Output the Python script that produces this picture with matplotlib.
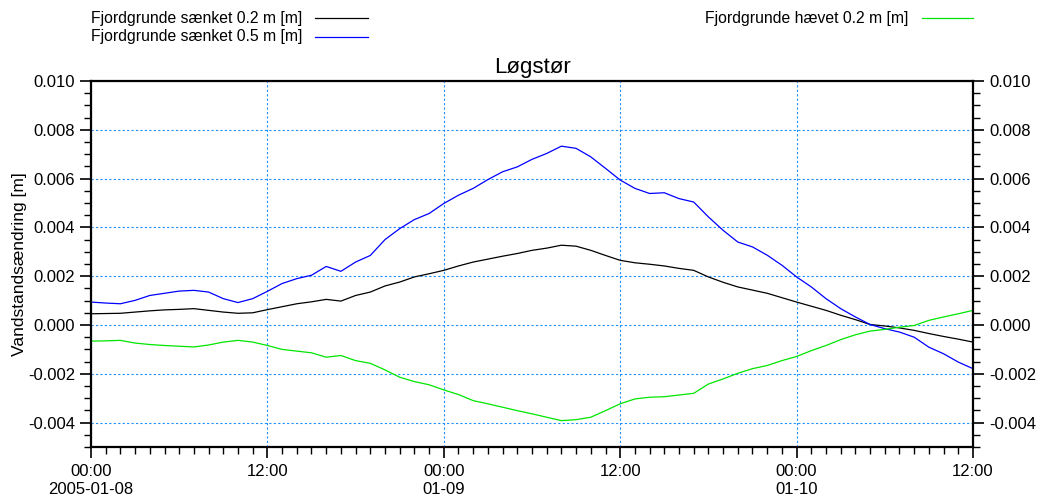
import numpy as np
import pandas as pd
import matplotlib
matplotlib.use("Agg")
import matplotlib.pyplot as plt
import matplotlib.dates as mdates
from matplotlib.lines import Line2D
from matplotlib.ticker import MultipleLocator

plt.rcParams['font.family'] = ['Liberation Sans', 'DejaVu Sans']

# hours after 2005-01-08 00:00, values in mm
hours = list(range(61))
saenket_02 = [0.46, 0.47, 0.48, 0.53, 0.58, 0.62, 0.64, 0.67, 0.60, 0.53,
              0.48, 0.50, 0.63, 0.75, 0.87, 0.95, 1.05, 0.98, 1.21, 1.35,
              1.60, 1.76, 1.97, 2.10, 2.24, 2.42, 2.58, 2.70, 2.82, 2.93,
              3.06, 3.15, 3.27, 3.23, 3.06, 2.85, 2.65, 2.55, 2.49, 2.42,
              2.32, 2.24, 1.97, 1.75, 1.56, 1.43, 1.30, 1.12, 0.94, 0.77,
              0.60, 0.40, 0.22, 0.02, -0.04, -0.12, -0.22, -0.35, -0.47, -0.58,
              -0.70]
saenket_05 = [0.94, 0.90, 0.87, 1.01, 1.21, 1.30, 1.39, 1.42, 1.35, 1.08,
              0.92, 1.08, 1.38, 1.70, 1.90, 2.04, 2.40, 2.20, 2.58, 2.85,
              3.50, 3.95, 4.32, 4.57, 4.98, 5.32, 5.60, 5.96, 6.28, 6.48,
              6.79, 7.03, 7.33, 7.24, 6.89, 6.42, 5.94, 5.60, 5.39, 5.42,
              5.18, 5.04, 4.43, 3.88, 3.40, 3.20, 2.86, 2.45, 1.97, 1.56,
              1.08, 0.67, 0.33, 0.02, -0.15, -0.29, -0.50, -0.91, -1.18, -1.52,
              -1.79]
haevet_02 = [-0.66, -0.65, -0.63, -0.74, -0.80, -0.84, -0.87, -0.90, -0.82, -0.70,
             -0.63, -0.70, -0.84, -1.00, -1.07, -1.14, -1.32, -1.25, -1.46, -1.57,
             -1.84, -2.14, -2.32, -2.45, -2.66, -2.85, -3.10, -3.23, -3.37, -3.51,
             -3.64, -3.78, -3.92, -3.88, -3.78, -3.51, -3.23, -3.03, -2.96, -2.94,
             -2.87, -2.80, -2.42, -2.21, -1.98, -1.79, -1.66, -1.46, -1.29, -1.05,
             -0.84, -0.60, -0.40, -0.25, -0.18, -0.09, -0.02, 0.19, 0.33, 0.46,
             0.60]

series_names = ["Fjordgrunde sænket 0.2 m [m]", "Fjordgrunde sænket 0.5 m [m]",
                "Fjordgrunde hævet 0.2 m [m]"]
series_colors = ["black", "#0000ff", "#00e600"]

start = pd.Timestamp("2005-01-08 00:00")
times = [start + pd.Timedelta(hours=h) for h in hours]
tick_labels = ["00:00\n2005-01-08", "12:00", "00:00\n01-09", "12:00", "00:00\n01-10", "12:00"]

fig = plt.figure(figsize=(10.41, 5.01), dpi=100)
ax = fig.add_axes([91/1041, 1 - 447/501, (973-91)/1041, (447-81)/501])

for vals, col in zip([saenket_02, saenket_05, haevet_02], series_colors):
    ax.plot(times, np.array(vals) / 1000.0, color=col, lw=0.9)

ax.set_xlim(start, start + pd.Timedelta(hours=60))
ax.set_ylim(-0.005, 0.010)

ax.xaxis.set_minor_locator(mdates.HourLocator())
ticks = [start + pd.Timedelta(hours=12*i) for i in range(6)]
ax.set_xticks(ticks)
ax.set_xticklabels(tick_labels, fontsize=12, linespacing=1.3)
ax.yaxis.set_major_locator(MultipleLocator(0.002))
ax.yaxis.set_minor_locator(MultipleLocator(0.0005))
ax.yaxis.set_major_formatter(matplotlib.ticker.FormatStrFormatter('%.3f'))

ax.tick_params(which='major', length=8, width=1.2, direction='out', labelsize=12)
ax.tick_params(which='minor', length=5, width=1.0, direction='out')
ax.tick_params(axis='y', which='both', left=True, right=True, labelleft=True, labelright=True)
ax.tick_params(axis='x', which='both', top=False, pad=4)

for s in ax.spines.values():
    s.set_linewidth(1.6)

ax.grid(True, which='major', color='#1e90ff', linestyle=(0, (2, 2)), linewidth=0.8)

ax.set_title("Løgstør", fontsize=16, pad=6)
ax.set_ylabel("Vandstandsændring [m]", fontsize=12.5, labelpad=1)

# legend above the plot
leg_y = [18/501, 37/501]
fs_leg = 11.3
fig.text(91/1041, 1 - leg_y[0], series_names[0], fontsize=fs_leg, va='center')
fig.add_artist(Line2D([315/1041, 368/1041], [1 - leg_y[0]] * 2, color=series_colors[0], lw=0.9))
fig.text(91/1041, 1 - leg_y[1], series_names[1], fontsize=fs_leg, va='center')
fig.add_artist(Line2D([315/1041, 368/1041], [1 - leg_y[1]] * 2, color=series_colors[1], lw=0.9))
fig.text(705/1041, 1 - leg_y[0], series_names[2], fontsize=fs_leg, va='center')
fig.add_artist(Line2D([922/1041, 973/1041], [1 - leg_y[0]] * 2, color=series_colors[2], lw=0.9))

fig.savefig("out.png", dpi=100)
